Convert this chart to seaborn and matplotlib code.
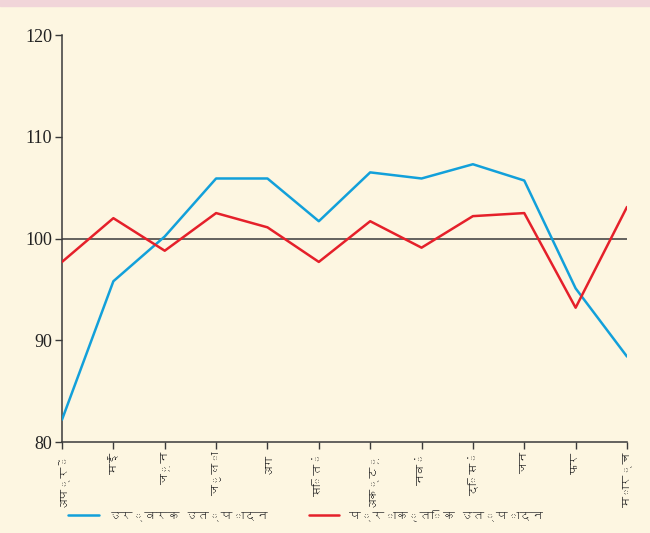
import numpy as np
import pandas as pd
import matplotlib
matplotlib.use("Agg")
import matplotlib.pyplot as plt
from matplotlib import font_manager
from matplotlib.ft2font import FT2Font
import seaborn as sns

# Data
months = ["अप्रै", "मई", "जून", "जुला", "अग", "सितं",
          "अक्टू", "नवं", "दिसं", "जन", "फर", "मार्च"]
fert = [82.2, 95.8, 100.2, 105.9, 105.9, 101.7,
        106.5, 105.9, 107.3, 105.7, 95.1, 88.4]
natural = [97.7, 102.0, 98.8, 102.5, 101.1, 97.7,
           101.7, 99.1, 102.2, 102.5, 93.2, 103.1]
series_names = ["उर्वरक उत्पादन", "प्राकृतिक उत्पादन"]

BLUE = "#12A0DA"
RED = "#E5202A"
BG = "#FDF6E1"
PINK = "#F1D5D9"
DARK = "#3A3A3A"

sns.set_theme(style="ticks")


def find_deva_font():
    # look for any installed font that has Devanagari glyphs
    for f in font_manager.findSystemFonts():
        try:
            cmap = FT2Font(f).get_charmap()
        except Exception:
            continue
        if 0x0915 in cmap and 0x0930 in cmap:
            return font_manager.FontProperties(fname=f).get_name()
    return None


deva = find_deva_font()
fams = ([deva] if deva else []) + ["Noto Sans", "DejaVu Sans"]
plt.rcParams["font.family"] = fams

df = pd.DataFrame({
    "x": list(range(len(months))) * 2,
    "val": fert + natural,
    "serie": [series_names[0]] * len(months) + [series_names[1]] * len(months),
})

fig = plt.figure(figsize=(6.5, 5.33), dpi=100, facecolor=BG)
ax = fig.add_axes([0.0954, 0.1707, 0.8692, 0.7636])
ax.set_facecolor(BG)
fig.patches.append(plt.Rectangle((0, 0.989), 1, 0.011, transform=fig.transFigure,
                                 color=PINK, zorder=0))

ax.axhline(100, color=DARK, lw=1.1, zorder=1)
sns.lineplot(data=df, x="x", y="val", hue="serie", palette=[BLUE, RED],
             lw=1.8, ax=ax, legend=True, zorder=3)

ax.set_xlim(0, len(months) - 1)
ax.set_ylim(80, 120)
ax.set_yticks([80, 90, 100, 110, 120])
ax.set_yticklabels([80, 90, 100, 110, 120], family=["Liberation Serif"], fontsize=13,
                   color="#222222")
ax.set_xticks(range(len(months)))
ax.set_xticklabels(months, rotation=90, fontsize=8, color="#222222", family=fams)
ax.set_xlabel("")
ax.set_ylabel("")
for s in ["top", "right"]:
    ax.spines[s].set_visible(False)
for s in ["left", "bottom"]:
    ax.spines[s].set_color(DARK)
    ax.spines[s].set_linewidth(1.1)
ax.tick_params(axis="both", length=5, width=1, color=DARK, pad=2)

handles, labels = ax.get_legend_handles_labels()
ax.get_legend().remove()
leg = fig.legend(handles, labels, loc="center", bbox_to_anchor=(0.47, 0.034), ncol=2,
                 frameon=False, handlelength=2.6, columnspacing=3.5,
                 prop={"family": fams, "size": 8.5})
for t in leg.get_texts():
    t.set_color("#333333")

fig.savefig("out.png", dpi=100, facecolor=BG)
